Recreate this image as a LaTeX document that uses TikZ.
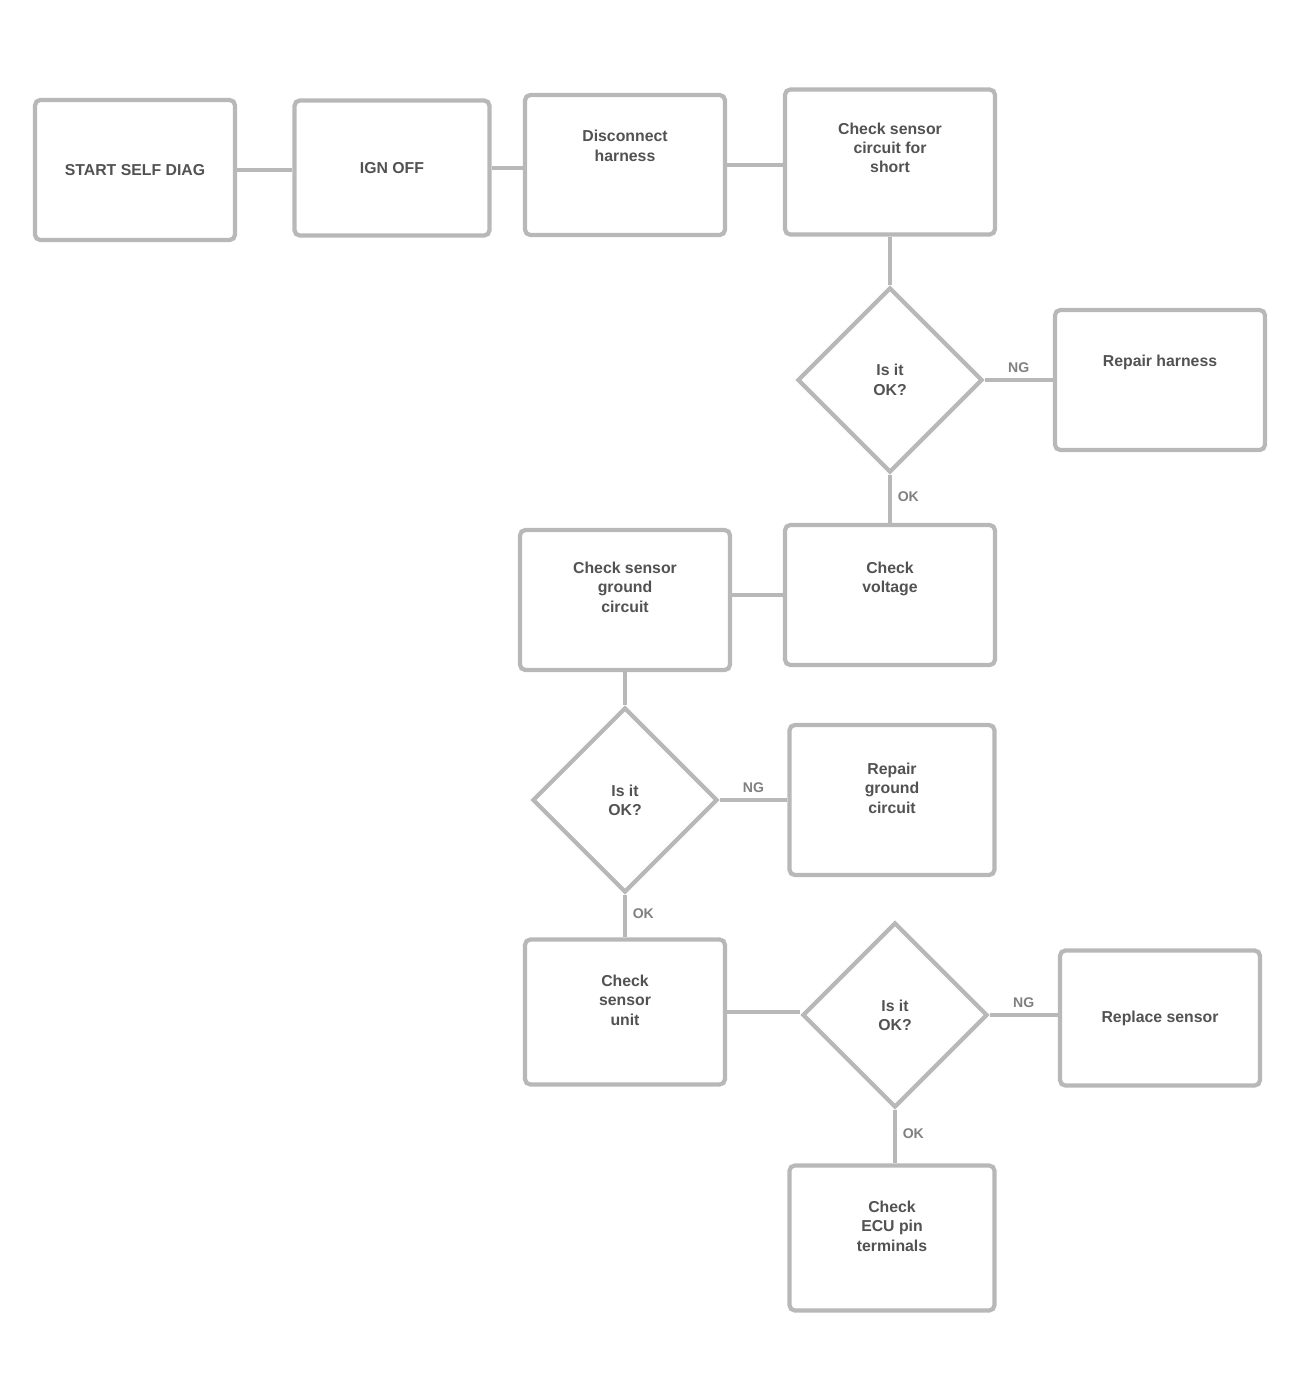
\documentclass[tikz,border=0pt]{standalone}
\usepackage{fontspec}
\setmainfont{Liberation Sans}
\usetikzlibrary{shapes.geometric,arrows.meta}
\begin{document}
\begin{tikzpicture}[x=0.02cm,y=-0.02cm,
  box/.style={draw=black!28,line width=2.4pt,rounded corners=3pt,fill=white,
    minimum width=#1*0.02cm,align=center,font=\bfseries\small,text=black!68,inner sep=4pt},
  box/.default=200,
  dec/.style={draw=black!28,line width=2.4pt,shape=diamond,aspect=1,minimum size=3.7cm,
    align=center,font=\bfseries\small,text=black!68,inner sep=0pt},
  conn/.style={draw=black!28,line width=2.2pt},
  lbl/.style={font=\bfseries\footnotesize,text=black!50}
]
\useasboundingbox (0,0) rectangle (1302,1384);
% row 1
\node[box=200,minimum height=2.8cm] (a) at (135,170) {START SELF DIAG};
\node[box=195,minimum height=2.7cm] (b) at (392,168) {IGN OFF};
\node[box=200,minimum height=2.8cm] (c) at (625,165) {Disconnect\\harness\\[1.2em]};
\node[box=210,minimum height=2.9cm] (d) at (890,162) {Check sensor\\circuit for\\short\\[0.6em]};
% decision 1
\node[dec] (q1) at (890,380) {Is it\\OK?};
\node[box=210,minimum height=2.8cm] (e) at (1160,380) {Repair harness\\[1.2em]};
% row 3
\node[box=210,minimum height=2.8cm] (f) at (890,595) {Check\\voltage\\[1em]};
\node[box=210,minimum height=2.8cm] (g) at (625,600) {Check sensor\\ground\\circuit\\[0.4em]};
% decision 2
\node[dec] (q2) at (625,800) {Is it\\OK?};
\node[box=205,minimum height=3cm] (h) at (892,800) {Repair\\ground\\circuit\\[0.3em]};
% row 5
\node[box=200,minimum height=2.9cm] (i) at (625,1012) {Check\\sensor\\unit\\[0.3em]};
\node[dec] (q3) at (895,1015) {Is it\\OK?};
\node[box=200,minimum height=2.7cm] (j) at (1160,1018) {Replace sensor};
\node[box=205,minimum height=2.9cm] (k) at (892,1238) {Check\\ECU pin\\terminals\\[0.3em]};
% connectors
\draw[conn] (a.east) -- (a.east -| b.west);
\draw[conn] (b.east) -- (b.east -| c.west);
\draw[conn] (c.east) -- (c.east -| d.west);
\draw[conn] (d) -- (q1);
\draw[conn] (q1.east) -- node[lbl,above]{NG} (q1.east -| e.west);
\draw[conn] (q1) -- node[lbl,right,pos=0.45]{OK} (f);
\draw[conn] (f.west) -- (f.west -| g.east);
\draw[conn] (g) -- (q2);
\draw[conn] (q2.east) -- node[lbl,above]{NG} (q2.east -| h.west);
\draw[conn] (q2) -- node[lbl,right,pos=0.45]{OK} (i);
\draw[conn] (i.east) -- (i.east -| q3.west);
\draw[conn] (q3.east) -- node[lbl,above]{NG} (q3.east -| j.west);
\draw[conn] (q3.south) -- node[lbl,right,pos=0.45]{OK} (q3.south |- k.north);
\end{tikzpicture}
\end{document}
